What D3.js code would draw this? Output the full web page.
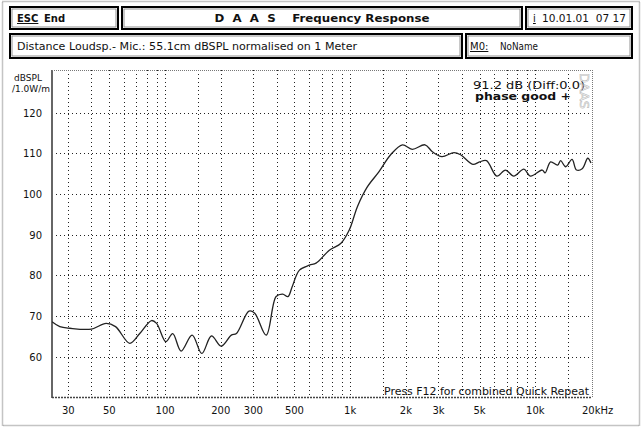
<!DOCTYPE html>
<html><head><meta charset="utf-8">
<script src="https://cdn.jsdelivr.net/npm/d3@7"></script>
<style>
body{margin:0;background:#fff;}
svg{display:block;font-family:"DejaVu Sans",sans-serif;}
text{white-space:pre;}
</style></head>
<body><svg id="c" width="642" height="429"></svg>
<script>
// ---- data ----
const freqs = [24.5,27,30.6,40,48,54,64.5,73,84.5,90,101,110,122,140,158,178,201,228,243,284,305,352,398,432,461,486,532,603,654,772,892,990,1094,1240,1432,1650,1916,2163,2537,2780,3130,3640,3965,4600,5000,5450,6200,6900,7650,8680,9420,10900,11300,12100,13200,13700,14600,15800,16700,18000,19200,20000];
const dbValues = [68.6,67.4,67.0,66.8,68.2,67.4,63.3,65.7,68.9,68.2,63.7,65.7,61.4,65.3,60.8,65.1,62.6,65.3,65.7,71.2,70.7,65.3,74.8,75.4,74.8,77.2,81.3,82.5,83.0,86.2,87.9,91.2,96.9,101.8,105.5,109.6,112.1,111.0,112.1,110.4,109.2,110.2,109.6,107.3,107.9,108.2,104.4,105.9,104.4,106.1,104.4,105.9,105.2,107.9,107.1,108.2,106.7,108.5,105.9,106.3,108.8,107.6];
const yTicks = [60,70,80,90,100,110,120];
const xTickValues = [30,50,100,200,300,500,1000,2000,3000,5000,10000];
const xTickLabels = ["30","50","100","200","300","500","1k","2k","3k","5k","10k"];
const xGrid = [30,40,50,60,70,80,90,100,150,200,300,400,500,600,700,800,900,1000,1500,2000,3000,4000,5000,6000,7000,8000,9000,10000,15000];
const yGrid = [60,70,80,90,100,110,120];

const svg = d3.select("#c");
const L=52,R=592,T=70,B=397;
const x = d3.scaleLog().domain([24.5,20000]).range([52,591]);
const y = d3.scaleLinear().domain([50,130]).range([397.4,72]);

// outer window border
svg.append("rect").attr("x",2.5).attr("y",1.5).attr("width",637).attr("height",424)
  .attr("fill","none").attr("stroke","#8a8a8a").attr("stroke-width",1.5).attr("stroke-dasharray","1,1");

// header boxes
function box(x0,y0,w,h){
  svg.append("rect").attr("x",x0).attr("y",y0).attr("width",w).attr("height",h)
    .attr("fill","#fff").attr("stroke","#000").attr("stroke-width",2);
  svg.append("rect").attr("x",x0+2).attr("y",y0+2).attr("width",w-4).attr("height",h-4)
    .attr("fill","none").attr("stroke","#777").attr("stroke-width",0.8);
}
box(10,7,108,22); box(122,7,400,22); box(526,7,106,22);
box(10,34,452,24); box(466,34,166,24);

const t = (s,xx,yy,opt={})=>{
  const e = svg.append("text").attr("x",xx).attr("y",yy).text(s)
    .attr("font-size",opt.size||10).attr("fill",opt.fill||"#111")
    .attr("font-weight",opt.bold?"bold":"normal")
    .attr("text-anchor",opt.anchor||"start");
  if(opt.len) e.attr("textLength",opt.len).attr("lengthAdjust","spacingAndGlyphs");
  if(opt.ul) e.attr("text-decoration","underline");
  return e;
};
t("ESC",17,22,{bold:true,ul:true,size:10});
t("End",44,22,{bold:true,size:10});
t("D  A  A  S    Frequency Response",322,22,{bold:true,size:11,anchor:"middle",len:215});
t("i",533,22,{ul:true,size:10});
t("10.01.01  07 17",542,22,{size:10,len:84});
t("Distance Loudsp.- Mic.: 55.1cm dBSPL normalised on 1 Meter",17,50,{size:10,len:340});
t("M0:",470,50,{size:10,ul:true});
t("NoName",500,50,{size:10,len:38});

// axis label
t("dBSPL",28,81,{size:9,anchor:"middle"});
t("/1.0W/m",31,92,{size:9,anchor:"middle"});

// grid
const g = svg.append("g");
g.selectAll(".hg").data(yGrid).join("line")
  .attr("x1",L).attr("x2",R).attr("y1",d=>Math.round(y(d))+0.5).attr("y2",d=>Math.round(y(d))+0.5)
  .attr("stroke","#222").attr("stroke-width",1).attr("stroke-dasharray","1,3");
g.selectAll(".vg").data(xGrid).join("line")
  .attr("y1",T).attr("y2",B).attr("x1",d=>Math.round(x(d))+0.5).attr("x2",d=>Math.round(x(d))+0.5)
  .attr("stroke","#222").attr("stroke-width",1).attr("stroke-dasharray","1,3");

// frame
svg.append("line").attr("x1",L).attr("x2",L).attr("y1",T).attr("y2",B+1).attr("stroke","#666").attr("stroke-width",2);
svg.append("line").attr("x1",L).attr("x2",R).attr("y1",T+0.5).attr("y2",T+0.5).attr("stroke","#777").attr("stroke-dasharray","1,1");
svg.append("line").attr("x1",R+0.5).attr("x2",R+0.5).attr("y1",T).attr("y2",B).attr("stroke","#777").attr("stroke-dasharray","1,1");
svg.append("line").attr("x1",L).attr("x2",R).attr("y1",B+0.5).attr("y2",B+0.5).attr("stroke","#444").attr("stroke-width",1.5).attr("stroke-dasharray","2,1");

// y tick labels
svg.selectAll(".yl").data(yTicks).join("text")
  .attr("x",42).attr("y",d=>y(d)+4).attr("text-anchor","end")
  .attr("font-size",10).attr("fill","#111").text(d=>d);

// x tick labels
svg.selectAll(".xl").data(xTickValues).join("text")
  .attr("x",d=>x(d)).attr("y",414).attr("text-anchor","middle")
  .attr("font-size",10).attr("fill","#111").text((d,i)=>xTickLabels[i]);
t("20kHz",x(20000)-9,414,{size:10});

// curve
svg.append("clipPath").attr("id","cp").append("rect").attr("x",L).attr("y",T).attr("width",R-L).attr("height",B-T);
const line = d3.line().x(d=>x(d[0])).y(d=>y(d[1])).curve(d3.curveCatmullRom.alpha(0.5));
svg.append("path").datum(freqs.map((f,i)=>[f,dbValues[i]]))
  .attr("d",line).attr("fill","none").attr("stroke","#222").attr("stroke-width",1.3)
  .attr("clip-path","url(#cp)");

// annotations
t("91.2 dB (Diff:0.0)",473,89,{size:10,len:112});
t("phase good +",475,100,{size:10,bold:true,len:96});
svg.append("text").attr("transform","translate(580,73) rotate(90)")
  .attr("font-size",13).attr("fill","none").attr("stroke","#bbb").attr("stroke-width",0.6)
  .attr("textLength",36).attr("lengthAdjust","spacingAndGlyphs").text("DAAS");
t("Press F12 for combined Quick Repeat",384,395,{size:10,len:205});
</script></body></html>
